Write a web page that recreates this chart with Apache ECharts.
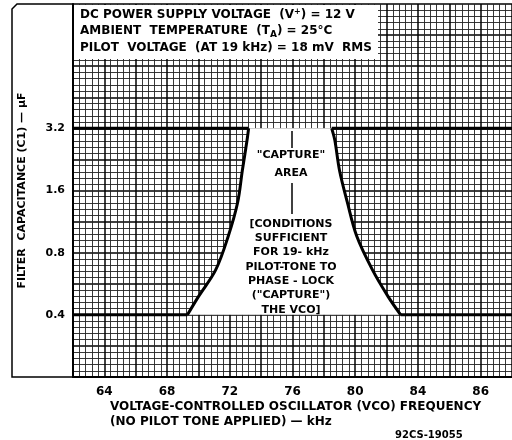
<!DOCTYPE html>
<html>
<head>
<meta charset="utf-8">
<script src="https://cdn.jsdelivr.net/npm/echarts@6/dist/echarts.min.js"></script>
<style>
  html, body { margin: 0; padding: 0; background: #fff; }
  #chart { width: 512px; height: 440px; }
</style>
</head>
<body>
<div id="chart"></div>
<script>
// capture area boundary: capacitance (uF) vs VCO freq (kHz)
const capLevels = [3.2, 2.8, 2.0, 1.4, 0.96, 0.66, 0.49, 0.4]
const lowEdgeKHz = [73.2, 73.1, 72.8, 72.5, 71.9, 71.1, 70.0, 69.3]
const highEdgeKHz = [78.5, 78.7, 79.0, 79.5, 80.1, 81.1, 82.1, 82.9]

// tick labels as printed (last one reads 86 on the original)
const freqTicks = [64, 68, 72, 76, 80, 84, 88]
const freqTickText = ['64', '68', '72', '76', '80', '84', '86']
const capTicks = [0.4, 0.8, 1.6, 3.2]
const freqRange = [62, 90]
const capRange = [0.2, 12.8]

const conditions = [
  'DC POWER SUPPLY VOLTAGE  (V{sup|+}) = 12 V',
  'AMBIENT  TEMPERATURE  (T{sub|A}) = 25°C',
  'PILOT  VOLTAGE  (AT 19 kHz) = 18 mV  RMS'
]
const areaNote = ['[CONDITIONS', 'SUFFICIENT', 'FOR 19- kHz', 'PILOT-TONE TO', 'PHASE - LOCK', '("CAPTURE")', 'THE VCO]']

const FONT = 'DejaVu Sans'
const capTop = capLevels[0]
const capBottom = capLevels[capLevels.length - 1]
const nLast = lowEdgeKHz.length - 1

const lowCurve = lowEdgeKHz.map((f, i) => [f, capLevels[i]])
const highCurve = highEdgeKHz.map((f, i) => [f, capLevels[i]])
const areaPts = lowCurve.concat(highCurve.slice().reverse())

// heavy rulings at 3.2 and 0.4 outside the capture area
const levelSegments = [
  [[freqRange[0], capTop], [lowEdgeKHz[0], capTop]],
  [[highEdgeKHz[0], capTop], [freqRange[1], capTop]],
  [[freqRange[0], capBottom], [lowEdgeKHz[nLast], capBottom]],
  [[highEdgeKHz[nLast], capBottom], [freqRange[1], capBottom]]
]

const el = document.getElementById('chart')
const chart = echarts.init(el, null, { renderer: 'canvas' })

const graphics = [
  {
    type: 'polyline', z: 50,
    shape: { points: [[73, 4], [17, 4], [12, 9], [12, 377], [73, 377]] },
    style: { stroke: '#000', lineWidth: 1.5, fill: null }
  },
  { type: 'rect', z: 50, shape: { x: 74, y: 5, width: 304, height: 54 }, style: { fill: '#fff' } },
  {
    type: 'line', z: 50, shape: { x1: 292, y1: 131, x2: 292, y2: 148 },
    style: { stroke: '#000', lineWidth: 1.5 }
  },
  {
    type: 'line', z: 50, shape: { x1: 292, y1: 183, x2: 292, y2: 214 },
    style: { stroke: '#000', lineWidth: 1.5 }
  },
  {
    type: 'text', z: 51, left: 110, top: 401,
    style: { text: 'VOLTAGE-CONTROLLED OSCILLATOR (VCO) FREQUENCY', fill: '#000', font: 'bold 12px "' + FONT + '"' }
  },
  {
    type: 'text', z: 51, left: 110, top: 416,
    style: { text: '(NO PILOT TONE APPLIED) — kHz', fill: '#000', font: 'bold 12px "' + FONT + '"' }
  },
  {
    type: 'text', z: 51, left: 395, top: 430,
    style: { text: '92CS-19055', fill: '#000', font: 'bold 10px "' + FONT + '"' }
  }
]

conditions.forEach((line, i) => {
  graphics.push({
    type: 'text', z: 51, left: 80, top: 8 + i * 17,
    style: {
      text: line, fill: '#000', font: 'bold 12px "' + FONT + '"',
      rich: {
        sup: { fontSize: 8, fontWeight: 'bold', fontFamily: FONT, verticalAlign: 'top', padding: [0, 0, 6, 0] },
        sub: { fontSize: 9, fontWeight: 'bold', fontFamily: FONT, padding: [8, 0, 0, 0] }
      }
    }
  })
})

// centred labels inside the capture area
const centred = [['"CAPTURE"', 155], ['AREA', 173]].concat(areaNote.map((t, i) => [t, 224 + i * 14.3]))
centred.forEach(([t, y]) => {
  graphics.push({
    type: 'text', z: 51, x: 291, y: y,
    style: { text: t, fill: '#000', font: 'bold 11px "' + FONT + '"', align: 'center', verticalAlign: 'middle' }
  })
})

const edgeSeries = (name, data) => ({
  name,
  type: 'line',
  yAxisIndex: 0,
  z: 4,
  data,
  symbol: 'none',
  smooth: 0.35,
  lineStyle: { color: '#000', width: 3 }
})

const option = {
  animation: false,
  backgroundColor: '#fff',
  grid: { left: 73, right: 0, top: 4, bottom: 63 },
  xAxis: {
    type: 'value',
    min: freqRange[0],
    max: freqRange[1],
    interval: 2,
    axisLine: { show: true, onZero: false, lineStyle: { color: '#000', width: 2 } },
    axisTick: { show: false },
    minorTick: { show: false, splitNumber: 5 },
    splitLine: { show: true, lineStyle: { color: '#000', width: 1.5 } },
    minorSplitLine: { show: true, lineStyle: { color: '#222', width: 0.9 } },
    axisLabel: {
      customValues: freqTicks,
      margin: 9,
      formatter: v => freqTickText[freqTicks.indexOf(v)],
      fontFamily: FONT,
      fontWeight: 'bold',
      fontSize: 12,
      color: '#000'
    }
  },
  yAxis: [
    {
      type: 'log',
      logBase: 2,
      min: capRange[0],
      max: capRange[1],
      name: 'FILTER  CAPACITANCE (C1) — µF',
      nameLocation: 'middle',
      nameRotate: 90,
      nameGap: 45,
      nameTextStyle: { fontFamily: FONT, fontWeight: 'bold', fontSize: 11, color: '#000' },
      axisLine: { show: true, lineStyle: { color: '#000', width: 2 } },
      axisTick: { show: false },
      splitLine: { show: false },
      axisLabel: {
        customValues: capTicks,
        margin: 8,
        formatter: v => v.toFixed(1),
        fontFamily: FONT,
        fontWeight: 'bold',
        fontSize: 11,
        color: '#000'
      }
    },
    {
      // graph paper rulings, uniform squares
      type: 'value',
      min: 0,
      max: 60,
      interval: 5,
      axisLine: { show: false },
      axisTick: { show: false },
      axisLabel: { show: false },
      minorTick: { show: false, splitNumber: 5 },
      splitLine: { show: true, lineStyle: { color: '#000', width: 1.5 } },
      minorSplitLine: { show: true, lineStyle: { color: '#222', width: 0.9 } }
    }
  ],
  series: [
    {
      name: 'capture area',
      type: 'custom',
      xAxisIndex: 0,
      yAxisIndex: 0,
      z: 3,
      data: areaPts,
      renderItem: function (params, api) {
        if (params.dataIndex !== 0) return
        return {
          type: 'polygon',
          shape: { points: areaPts.map(p => api.coord(p)) },
          style: { fill: '#fff', stroke: null }
        }
      }
    },
    edgeSeries('low edge', lowCurve),
    edgeSeries('high edge', highCurve)
  ].concat(levelSegments.map((seg, i) => ({
    name: 'level ' + i,
    type: 'line',
    yAxisIndex: 0,
    z: 4,
    data: seg,
    symbol: 'none',
    lineStyle: { color: '#000', width: 3 }
  }))),
  graphic: graphics
}

chart.setOption(option)
</script>
</body>
</html>
